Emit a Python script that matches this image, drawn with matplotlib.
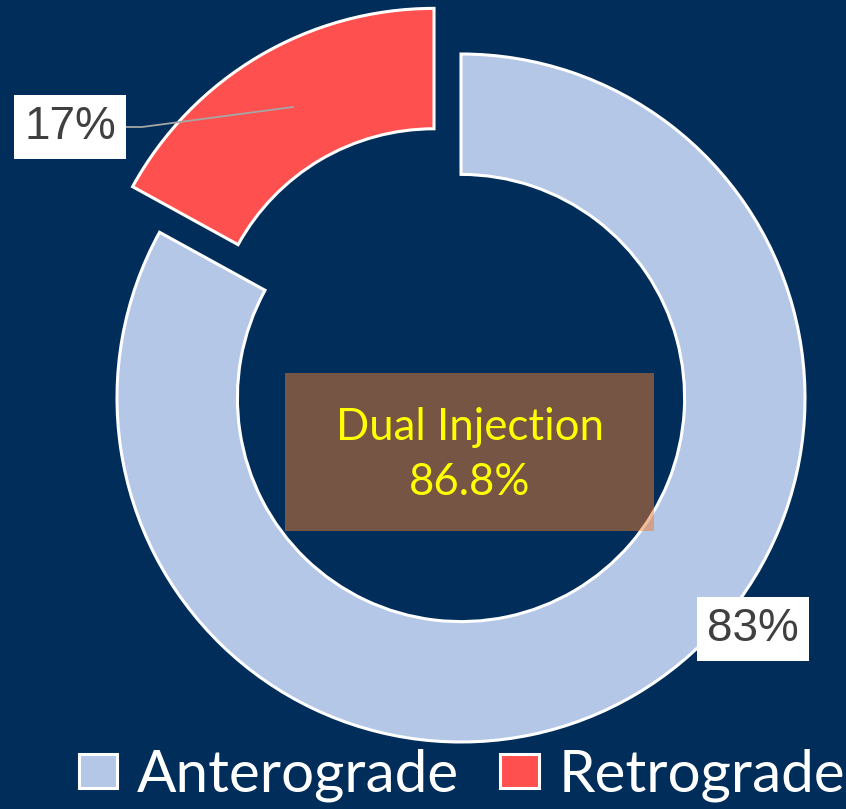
import matplotlib.pyplot as plt
from matplotlib.patches import Rectangle

# Chart data
labels = ['Anterograde', 'Retrograde']
values = [83, 17]
colors = ['#B4C7E7', '#FF5050']
center_title = 'Dual Injection'
center_value = 86.8

bg = '#002D59'
W, H = 846, 809

fig = plt.figure(figsize=(W / 100, H / 100), dpi=100)
fig.patch.set_facecolor(bg)
ax = fig.add_axes([0, 0, 1, 1])
ax.set_facecolor(bg)

# donut, pixel-like data coords (y up)
cx, cy, r = 461, H - 398, 344
wedges, _ = ax.pie(values, colors=colors, startangle=90, counterclock=False,
                   radius=r, center=(cx, cy), explode=[0, 53],
                   wedgeprops=dict(width=0.35 * r, edgecolor='white', linewidth=2.2))

ax.set_xlim(0, W)
ax.set_ylim(0, H)
ax.set_aspect('equal')
ax.axis('off')

# data labels
lab_font = dict(family='Liberation Sans', fontsize=33, color='#404040')
box = dict(boxstyle='square,pad=0.22', facecolor='white', edgecolor='none')
ax.text(70, H - 127, f'{values[1]}%', ha='center', va='center', bbox=box, **lab_font)
ax.text(753, H - 629, f'{values[0]}%', ha='center', va='center', bbox=box, **lab_font)
ax.plot([126, 142, 293], [H - 127, H - 127, H - 107], color='#A6A6A6', lw=1.3)

# center box
ax.add_patch(Rectangle((285, H - 531), 369, 158, facecolor='#ED7D31', alpha=0.5,
                       edgecolor='none', zorder=3))
ax.text(469.5, H - 455, f'{center_title}\n{center_value}%', ha='center', va='center',
        color='#FFFF00', fontsize=31.5, family='Lato', linespacing=1.4, zorder=4)

leg = fig.legend(wedges, labels, loc='lower center', bbox_to_anchor=(0.546, -0.056),
                 ncol=2, frameon=False, labelcolor='white',
                 prop=dict(family='Lato', size=42),
                 handlelength=0.66, handleheight=0.52, handletextpad=0.34,
                 columnspacing=0.7)

fig.savefig('out.png', dpi=100, facecolor=bg)
